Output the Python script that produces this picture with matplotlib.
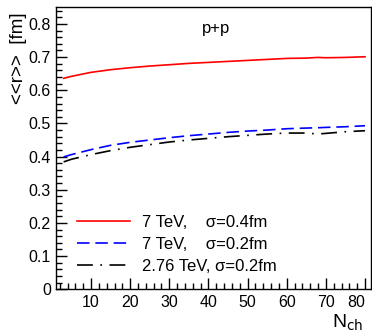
import numpy as np
import matplotlib
matplotlib.use("Agg")
import matplotlib.pyplot as plt
from matplotlib.ticker import MultipleLocator

plt.rcParams['font.family'] = ['Liberation Sans', 'DejaVu Sans']

# data
nch = [3, 5, 10, 15, 20, 25, 30, 35, 40, 45, 50, 55, 60, 65, 68, 70, 75, 80]
r_7tev_04 = [0.636, 0.642, 0.654, 0.662, 0.668, 0.673, 0.677, 0.681, 0.684,
             0.687, 0.690, 0.693, 0.696, 0.697, 0.699, 0.698, 0.699, 0.701]
r_7tev_02 = [0.399, 0.406, 0.421, 0.434, 0.443, 0.450, 0.457, 0.463, 0.468,
             0.473, 0.477, 0.480, 0.484, 0.486, 0.487, 0.488, 0.490, 0.493]
r_276tev_02 = [0.384, 0.392, 0.406, 0.418, 0.428, 0.436, 0.444, 0.450, 0.455,
               0.460, 0.464, 0.468, 0.471, 0.471, 0.468, 0.470, 0.475, 0.478]
labels = ["7 TeV,    \u03c3=0.4fm", "7 TeV,    \u03c3=0.2fm", "2.76 TeV, \u03c3=0.2fm"]

fig = plt.figure(figsize=(3.72, 3.34), dpi=100)
ax = fig.add_axes([0.150, 0.134, 0.847, 0.844])

ax.plot(nch, r_7tev_04, color="red", lw=1.2, label=labels[0])
ax.plot(nch, r_7tev_02, color="blue", lw=1.2, dashes=(7.5, 3.5), label=labels[1])
ax.plot(nch, r_276tev_02, color="black", lw=1.2, dashes=(9.5, 4.5, 1, 4.5), label=labels[2])

ax.set_xlim(1, 81.5)
ax.set_ylim(0, 0.85)
ax.xaxis.set_minor_locator(MultipleLocator(2))
ax.yaxis.set_minor_locator(MultipleLocator(0.02))
ax.tick_params(which="both", direction="in", top=False, right=False, labelsize=11.5)
ax.tick_params(which="major", length=8, width=1)
ax.tick_params(which="minor", length=4, width=1)
ax.tick_params(axis="x", pad=4)
ax.set_xticks([10, 20, 30, 40, 50, 60, 70, 80])
ax.set_yticks([0, 0.1, 0.2, 0.3, 0.4, 0.5, 0.6, 0.7, 0.8])
ax.set_yticklabels(["0", "0.1", "0.2", "0.3", "0.4", "0.5", "0.6", "0.7", "0.8"])
# last x label kept inside the frame, as in the original
ax.get_xticklabels()[-1].set_horizontalalignment("right")
for s in ax.spines.values():
    s.set_linewidth(1)

ax.text(42, 0.786, "p+p", fontsize=12, ha="center", va="center")

fig.text(0.977, 0.003, r"N$_{\rm ch}$", fontsize=14, ha="right", va="bottom")
fig.text(0.050, 0.962, "<<r>>  [fm]", fontsize=13.5, rotation=90, ha="center", va="top")

ax.legend(loc="lower left", bbox_to_anchor=(0.02, 0.0), frameon=False,
          fontsize=12, handlelength=3.15, handletextpad=0.72, labelspacing=0.42)

fig.savefig("out.png", dpi=100)
